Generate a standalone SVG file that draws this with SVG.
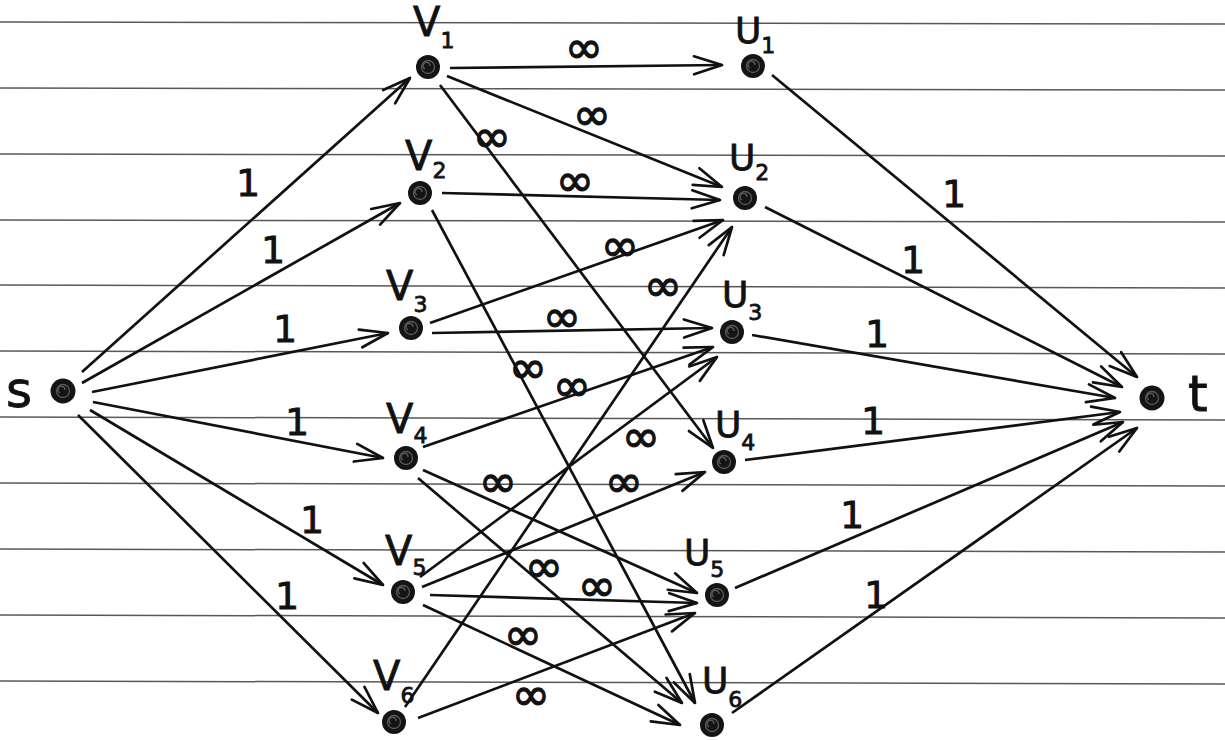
<svg xmlns="http://www.w3.org/2000/svg" width="1225" height="740" viewBox="0 0 1225 740">
<style>
.paper{stroke:#3c3c3c;stroke-width:1.5;opacity:0.85}
.e{stroke:#111;stroke-width:2.7;fill:none;marker-end:url(#ah)}
.dot{fill:#141414}
.sw{fill:none;stroke:#5a5a5a;stroke-width:1.3}
.t{font-family:"DejaVu Sans",sans-serif;fill:#111;stroke:#111;stroke-width:0.8}
.nv{font-size:40px}
.nu{font-size:36px}
.sub{font-size:22px}
.one{font-size:38px;text-anchor:middle}
.inf{font-size:46px;text-anchor:middle;stroke-width:1.2}
</style>
<defs>
<marker id="ah" markerUnits="userSpaceOnUse" markerWidth="40" markerHeight="30" viewBox="-32 -15 36 30" refX="0" refY="0" orient="auto">
<path d="M-28,-9 L0,0 L-28,9" fill="none" stroke="#111" stroke-width="2.7" stroke-linecap="round" stroke-linejoin="round"/>
</marker>
<g id="sw"><circle r="6.5" class="sw"/><path d="M-3,2 a3.5,3.5 0 1,1 5,-3" class="sw"/></g>
</defs>
<rect width="1225" height="740" fill="#ffffff"/>
<g id="paper">
<line class="paper" x1="0" y1="22" x2="1225" y2="24"/>
<line class="paper" x1="0" y1="88" x2="1225" y2="90"/>
<line class="paper" x1="0" y1="154" x2="1225" y2="156"/>
<line class="paper" x1="0" y1="220" x2="1225" y2="222"/>
<line class="paper" x1="0" y1="285" x2="1225" y2="288"/>
<line class="paper" x1="0" y1="351" x2="1225" y2="354"/>
<line class="paper" x1="0" y1="417" x2="1225" y2="420"/>
<line class="paper" x1="0" y1="483" x2="1225" y2="486"/>
<line class="paper" x1="0" y1="549" x2="1225" y2="552"/>
<line class="paper" x1="0" y1="615" x2="1225" y2="618"/>
<line class="paper" x1="0" y1="681" x2="1225" y2="684"/>
</g>
<g id="connectors">
<path class="e" d="M82,372 L410,78"/>
<path class="e" d="M82,383 L400,203"/>
<path class="e" d="M92,392 L388,333"/>
<path class="e" d="M93,402 L383,458"/>
<path class="e" d="M90,410 L383,585"/>
<path class="e" d="M78,415 L378,713"/>
<path class="e" d="M450,68 L722,65"/>
<path class="e" d="M447,76 L722,187"/>
<path class="e" d="M440,85 L713,448"/>
<path class="e" d="M442,193 L720,200"/>
<path class="e" d="M432,210 L695,703"/>
<path class="e" d="M430,323 L723,220"/>
<path class="e" d="M432,333 L712,328"/>
<path class="e" d="M423,447 L713,347"/>
<path class="e" d="M423,470 L697,593"/>
<path class="e" d="M418,478 L682,703"/>
<path class="e" d="M420,577 L717,357"/>
<path class="e" d="M422,587 L705,472"/>
<path class="e" d="M430,595 L697,603"/>
<path class="e" d="M423,605 L680,725"/>
<path class="e" d="M405,707 L732,227"/>
<path class="e" d="M418,718 L695,613"/>
<path class="e" d="M772,75 L1137,377"/>
<path class="e" d="M765,207 L1122,387"/>
<path class="e" d="M752,335 L1115,398"/>
<path class="e" d="M745,460 L1120,412"/>
<path class="e" d="M735,588 L1123,422"/>
<path class="e" d="M732,713 L1137,428"/>
</g>
<g id="edge-labels" class="t">
<text class="one" x="248" y="196">1</text>
<text class="one" x="273" y="263">1</text>
<text class="one" x="285" y="342">1</text>
<text class="one" x="297" y="435">1</text>
<text class="one" x="312" y="533">1</text>
<text class="one" x="287" y="609">1</text>
<text class="one" x="954" y="207">1</text>
<text class="one" x="913" y="273">1</text>
<text class="one" x="877" y="347">1</text>
<text class="one" x="873" y="434">1</text>
<text class="one" x="852" y="528">1</text>
<text class="one" x="876" y="608">1</text>
<text class="inf" x="584" y="63">∞</text>
<text class="inf" x="592" y="130">∞</text>
<text class="inf" x="492" y="152">∞</text>
<text class="inf" x="575" y="196">∞</text>
<text class="inf" x="620" y="261">∞</text>
<text class="inf" x="663" y="301">∞</text>
<text class="inf" x="562" y="332">∞</text>
<text class="inf" x="528" y="383">∞</text>
<text class="inf" x="572" y="401">∞</text>
<text class="inf" x="641" y="452">∞</text>
<text class="inf" x="498" y="497">∞</text>
<text class="inf" x="624" y="497">∞</text>
<text class="inf" x="544" y="582">∞</text>
<text class="inf" x="597" y="601">∞</text>
<text class="inf" x="523" y="650">∞</text>
<text class="inf" x="531" y="710">∞</text>
</g>
<g id="node-s"><circle class="dot" cx="63" cy="391" r="12.5"/><use href="#sw" x="63" y="391"/><text class="t" x="6" y="407" font-size="50">s</text></g>
<g id="node-t"><circle class="dot" cx="1152" cy="398" r="12.5"/><use href="#sw" x="1152" y="398"/><text class="t" x="1188" y="411" font-size="50">t</text></g>
<g id="node-v1"><circle class="dot" cx="428" cy="67" r="12"/><use href="#sw" x="428" y="67"/><text class="t nv" x="413" y="36">V<tspan class="sub" dy="12">1</tspan></text></g>
<g id="node-v2"><circle class="dot" cx="420" cy="193" r="12"/><use href="#sw" x="420" y="193"/><text class="t nv" x="405" y="170">V<tspan class="sub" dy="8">2</tspan></text></g>
<g id="node-v3"><circle class="dot" cx="411" cy="328" r="12"/><use href="#sw" x="411" y="328"/><text class="t nv" x="386" y="300">V<tspan class="sub" dy="12">3</tspan></text></g>
<g id="node-v4"><circle class="dot" cx="406" cy="458" r="12"/><use href="#sw" x="406" y="458"/><text class="t nv" x="386" y="433">V<tspan class="sub" dy="10">4</tspan></text></g>
<g id="node-v5"><circle class="dot" cx="403" cy="592" r="12"/><use href="#sw" x="403" y="592"/><text class="t nv" x="385" y="565">V<tspan class="sub" dy="10">5</tspan></text></g>
<g id="node-v6"><circle class="dot" cx="394" cy="722" r="12"/><use href="#sw" x="394" y="722"/><text class="t nv" x="373" y="690">V<tspan class="sub" dy="13">6</tspan></text></g>
<g id="node-u1"><circle class="dot" cx="753" cy="66" r="12"/><use href="#sw" x="753" y="66"/><text class="t nu" x="735" y="43">U<tspan class="sub" dy="10">1</tspan></text></g>
<g id="node-u2"><circle class="dot" cx="745" cy="198" r="12"/><use href="#sw" x="745" y="198"/><text class="t nu" x="729" y="170">U<tspan class="sub" dy="10">2</tspan></text></g>
<g id="node-u3"><circle class="dot" cx="732" cy="332" r="12"/><use href="#sw" x="732" y="332"/><text class="t nu" x="722" y="307">U<tspan class="sub" dy="13">3</tspan></text></g>
<g id="node-u4"><circle class="dot" cx="724" cy="462" r="12"/><use href="#sw" x="724" y="462"/><text class="t nu" x="715" y="437">U<tspan class="sub" dy="13">4</tspan></text></g>
<g id="node-u5"><circle class="dot" cx="717" cy="595" r="12"/><use href="#sw" x="717" y="595"/><text class="t nu" x="684" y="565">U<tspan class="sub" dy="12">5</tspan></text></g>
<g id="node-u6"><circle class="dot" cx="712" cy="725" r="12"/><use href="#sw" x="712" y="725"/><text class="t nu" x="702" y="693">U<tspan class="sub" dy="14">6</tspan></text></g>
</svg>
